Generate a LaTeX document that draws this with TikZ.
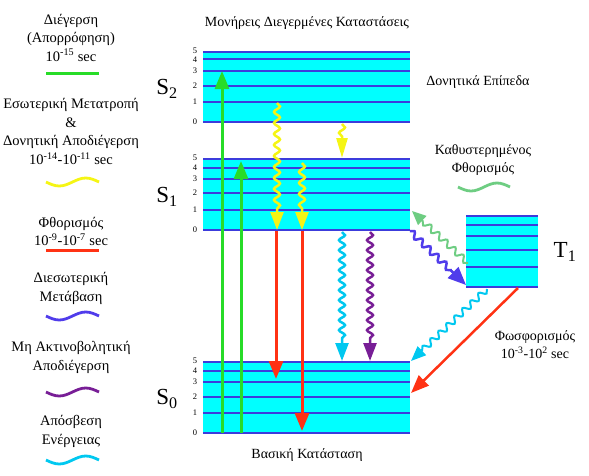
\documentclass[tikz,border=0pt]{standalone}
\usepackage{fontspec}
\setmainfont{Liberation Serif}
\usetikzlibrary{arrows.meta,decorations.pathmorphing}
\definecolor{lvlfill}{RGB}{0,255,255}
\definecolor{lvlline}{RGB}{60,60,220}
\definecolor{exc}{RGB}{40,220,40}
\definecolor{icc}{RGB}{245,245,20}
\definecolor{flc}{RGB}{255,50,20}
\definecolor{iscc}{RGB}{80,60,235}
\definecolor{nrc}{RGB}{120,30,150}
\definecolor{quc}{RGB}{0,200,240}
\definecolor{dfc}{RGB}{110,205,130}
\tikzset{
  lvl/.style={lvlline, line width=2.5pt},
  lbl/.style={font=\fontsize{14}{18}\selectfont, align=center, inner sep=0pt},
  leglbl/.style={font=\fontsize{14.5}{18.5}\selectfont, align=center, inner sep=0pt},
  num/.style={font=\fontsize{8.5}{8.5}\selectfont, inner sep=0pt},
  slbl/.style={font=\fontsize{23}{23}\selectfont, inner sep=0pt},
  straightarr/.style={line width=3pt, -{Triangle[width=14pt,length=18pt]}},
  wavearr/.style={line width=2.5pt, decorate,
     decoration={snake, amplitude=3pt, segment length=11pt, post length=18pt},
     -{Triangle[width=13pt,length=18pt]}},
  legline/.style={line width=3pt},
  legwave/.style={line width=2.8pt},
}
\newcommand{\levels}[4]{% x1, x2, list of y
  \foreach \yy in {#3} {\draw[lvl] (#1,\yy) -- (#2,\yy);}
}
\newcommand{\legw}[2]{\draw[legwave, #1] (46,#2) sin (59.25,#2+4) cos (72.5,#2) sin (85.75,#2-4) cos (99,#2);}
\begin{document}
\begin{tikzpicture}[x=1pt,y=-1pt]
\useasboundingbox (0,0) rectangle (589,475);
% blocks
\fill[lvlfill] (203,52) rectangle (410,122);
\fill[lvlfill] (203,159) rectangle (410,230);
\fill[lvlfill] (203,362) rectangle (410,433);
\fill[lvlfill] (466,216) rectangle (538,287);
\levels{203}{410}{52,59,71,86,102,122}{}
\levels{203}{410}{159,168,179,193,210,230}{}
\levels{203}{410}{362,371,382,397,413,433}{}
\levels{466}{538}{216,225,236,250,267,287}{}
% level numbers
\foreach \n/\yy [count=\i] in {5/51,4/60,3/71,2/86,1/102,0/122} {\node[num] (nA\i) at (195,\yy) {\n};}
\foreach \n/\yy [count=\i] in {5/158,4/168,3/179,2/193,1/210,0/230} {\node[num] (nB\i) at (195,\yy) {\n};}
\foreach \n/\yy [count=\i] in {5/361,4/371,3/382,2/397,1/413,0/433} {\node[num] (nC\i) at (195,\yy) {\n};}
% state labels
\node[slbl] (S2) at (167,89) {S\textsubscript{2}};
\node[slbl] (S1) at (167,197) {S\textsubscript{1}};
\node[slbl] (S0) at (167,399) {S\textsubscript{0}};
\node[slbl] (T1) at (565,252) {T\textsubscript{1}};
% texts
\node[lbl] (title) at (307,23) {Μονήρεις Διεγερμένες Καταστάσεις};
\node[lbl] (vib) at (478,82) {Δονητικά Επίπεδα};
\node[lbl] (dfl) at (483,160) {Καθυστερημένος\\Φθορισμός};
\node[lbl] (phos) at (535,345) {Φωσφορισμός\\10\textsuperscript{-3}-10\textsuperscript{2} sec};
\node[lbl] (ground) at (307,455) {Βασική Κατάσταση};
% legend
\node[leglbl] (L1) at (71,37.5) {Διέγερση\\(Απορρόφηση)\\10\textsuperscript{-15} sec};
\node[leglbl] (L2) at (71,131.5) {Εσωτερική Μετατροπή\\\&\\Δονητική Αποδιέγερση\\10\textsuperscript{-14}-10\textsuperscript{-11} sec};
\node[leglbl] (L3) at (71,231.5) {Φθορισμός\\10\textsuperscript{-9}-10\textsuperscript{-7} sec};
\node[leglbl] (L4) at (71,288.5) {Διεσωτερική\\Μετάβαση};
\node[leglbl] (L5) at (71,357.5) {Μη Ακτινοβολητική\\Αποδιέγερση};
\node[leglbl] (L6) at (71,431.5) {Απόσβεση\\Ενέργειας};
\draw[legline, exc] (46,73) -- (99,73);
\draw[legline, flc] (46,250) -- (99,250);
\legw{icc}{182}
\legw{iscc}{316}
\legw{nrc}{392}
\legw{quc}{460}
\draw[legwave, dfc] (458,187) sin (471,191) cos (484,187) sin (497,183) cos (510,187);
% endpoints
\coordinate (g1s) at (222,433); \coordinate (g1e) at (222,71);
\coordinate (g2s) at (241,433); \coordinate (g2e) at (241,161);
\coordinate (y1s) at (277,103); \coordinate (y1e) at (277,230);
\coordinate (y2s) at (302,163); \coordinate (y2e) at (302,230);
\coordinate (y3s) at (342,124); \coordinate (y3e) at (342,158);
\coordinate (r1s) at (276,231); \coordinate (r1e) at (276,379);
\coordinate (r2s) at (302,231); \coordinate (r2e) at (302,431);
\coordinate (c1s) at (342,232); \coordinate (c1e) at (342,361);
\coordinate (p1s) at (370,232); \coordinate (p1e) at (370,361);
\coordinate (iscs) at (410,231); \coordinate (isce) at (466,285);
\coordinate (dfs) at (468,263); \coordinate (dfe) at (412,211);
\coordinate (qts) at (487,289); \coordinate (qte) at (411,361);
\coordinate (phs) at (518,288); \coordinate (phe) at (411,393);
% arrows
\draw[straightarr, flc] (r1s) -- (r1e);
\draw[straightarr, flc] (r2s) -- (r2e);
\draw[straightarr, exc] (g1s) -- (g1e);
\draw[straightarr, exc] (g2s) -- (g2e);
\draw[wavearr, icc] (y1s) -- (y1e);
\draw[wavearr, icc] (y2s) -- (y2e);
\draw[wavearr, icc, -{Triangle[width=11pt,length=20pt]}, decoration={post length=20pt}] (y3s) -- (y3e);
\draw[wavearr, quc, decoration={segment length=10pt}] (c1s) -- (c1e);
\draw[wavearr, nrc, decoration={segment length=10pt}] (p1s) -- (p1e);
\draw[wavearr, iscc, -{Triangle[width=15pt,length=18pt]}] (iscs) -- (isce);
\draw[wavearr, dfc, line width=2pt, -{Triangle[width=12pt,length=14pt]}, decoration={post length=14pt}] (dfs) -- (dfe);
\draw[wavearr, quc, line width=2pt, -{Triangle[width=12pt,length=15pt]}, decoration={post length=15pt}] (qts) -- (qte);
\draw[line width=2.5pt, flc, -{Triangle[width=14pt,length=18pt]}] (phs) -- (phe);
\end{tikzpicture}
\end{document}
